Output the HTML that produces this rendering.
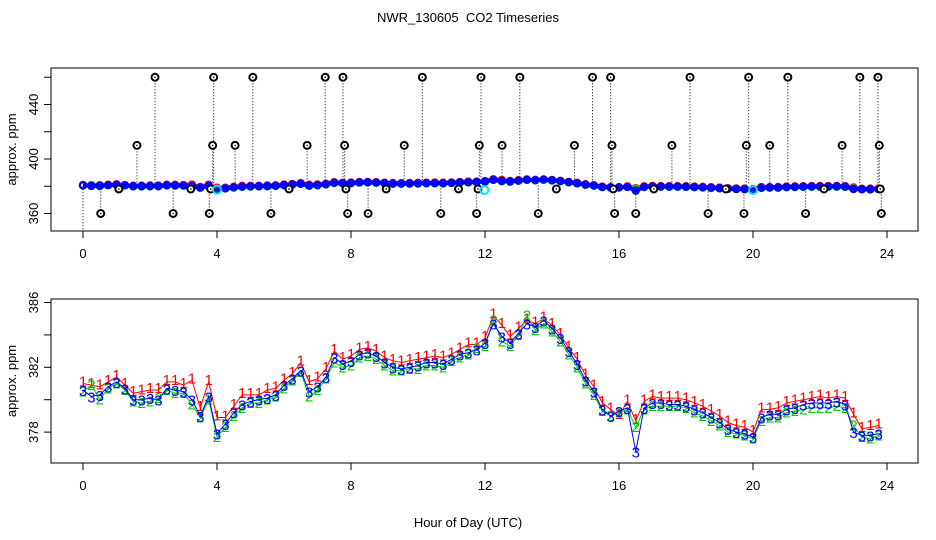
<!DOCTYPE html>
<html><head><meta charset="utf-8"><style>
html,body{margin:0;padding:0;background:#fff;}
svg{display:block;font-family:"Liberation Sans",sans-serif;}
</style></head><body>
<svg id="chart" width="936" height="540" viewBox="0 0 936 540" xmlns="http://www.w3.org/2000/svg">
<rect width="936" height="540" fill="#fff"/>
<text x="468" y="22" font-size="13" text-anchor="middle" xml:space="preserve">NWR_130605  CO2 Timeseries</text>
<text x="468" y="527" font-size="13" text-anchor="middle">Hour of Day (UTC)</text>
<g id="topPanel"></g>
<g id="botPanel"></g>
</svg>
<script>
const hourStep = 0.25;
const s1 = [381.0,380.9,380.8,381.1, 381.4,380.9,380.4,380.5, 380.6,380.6,381.1,381.1, 380.9,381.2,379.5,381.1, 378.9,378.9,379.6,380.3, 380.3,380.3,380.6,380.7, 381.2,381.6,382.3,381.1, 381.3,381.9,383.0,382.5, 382.7,383.1,383.2,383.0, 382.6,382.4,382.3,382.4, 382.5,382.6,382.7,382.6, 382.8,383.1,383.4,383.4, 383.8,385.2,384.6,383.9, 384.4,384.9,384.7,385.0, 384.6,384.0,383.2,382.5, 381.5,380.8,379.8,379.4, 379.0,379.9,378.7,379.9, 380.2,380.1,380.1,380.1, 380.0,379.8,379.6,379.3, 379.0,378.6,378.4,378.3, 378.0,379.4,379.4,379.5, 379.8,379.9,380.0,380.1, 380.2,380.1,380.2,380.1, 379.1,378.2,378.3,378.4];
const s2 = [380.5,380.9,380.0,380.7, 381.0,380.6,379.9,379.8, 379.9,380.1,380.6,380.4, 380.4,379.7,378.9,380.0, 377.7,378.3,379.0,379.5, 379.8,379.8,380.0,380.2, 380.7,381.2,381.7,380.2, 380.6,381.3,382.3,382.0, 382.1,382.6,382.7,382.5, 382.1,381.8,381.8,381.9, 381.9,382.1,382.1,382.0, 382.4,382.6,382.8,383.2, 383.3,384.9,383.6,383.3, 384.0,385.2,384.3,384.7, 384.2,383.6,382.8,382.0, 381.0,380.3,379.3,379.0, 379.2,379.4,378.3,379.4, 379.6,379.6,379.6,379.6, 379.5,379.2,379.0,378.7, 378.4,378.0,377.9,377.8, 377.6,378.7,378.9,378.9, 379.2,379.3,379.4,379.5, 379.5,379.5,379.6,379.5, 378.4,377.7,377.6,377.8];
const s3 = [380.6,380.2,380.3,380.8, 381.1,380.7,380.0,380.0, 380.1,380.0,380.7,380.6, 380.5,380.0,379.0,380.2, 377.9,378.5,379.2,379.7, 379.9,380.0,380.1,380.3, 380.9,381.3,381.8,380.5, 380.8,381.4,382.6,382.2, 382.4,382.8,382.9,382.7, 382.3,382.0,381.9,382.0, 382.1,382.3,382.3,382.2, 382.5,382.8,382.9,383.1, 383.5,384.7,383.9,383.5, 384.1,384.7,384.5,384.9, 384.4,383.8,383.0,382.2, 381.2,380.5,379.4,379.0, 379.3,379.5,376.8,379.5, 379.8,379.8,379.7,379.7, 379.6,379.4,379.2,378.9, 378.6,378.2,378.0,377.9, 377.7,378.9,379.1,379.1, 379.4,379.5,379.7,379.8, 379.8,379.8,379.9,379.7, 378.0,377.8,377.8,377.9];
const outHours = [0.53,1.07,1.61,2.15,2.69,3.22,3.77,3.81,3.87,3.90,4.54,5.07,5.61,6.15,6.69,7.23,7.76,7.81,7.85,7.90,8.51,9.05,9.59,10.13,10.68,11.21,11.75,11.79,11.83,11.88,12.51,13.04,13.59,14.13,14.67,15.21,15.75,15.79,15.83,15.87,16.5,17.04,17.58,18.12,18.66,19.19,19.73,19.80,19.87,20.5,21.04,21.57,22.12,22.66,23.19,23.73,23.77,23.80,23.83];
const outValues = [360,378,410,460,360,378,360,378,410,460,410,460,360,378,410,460,460,410,378,360,360,378,410,460,360,378,360,378,410,460,410,460,360,378,410,460,460,410,378,360,360,378,410,460,360,378,360,410,460,410,460,360,378,410,460,460,410,378,360];
const flagHours = [4.0,11.98,20.0];
const flagValues = [377.5,377.2,377.2];
const xTicks = [0,4,8,12,16,20,24];
const topYTicks = [360,380,400,420,440,460];
const topYLabels = [360,400,440];
const botYTicks = [378,380,382,384,386];
const botYLabels = [378,382,386];

const NS = "http://www.w3.org/2000/svg";
function mk(parent, tag, attrs) {
  const e = document.createElementNS(NS, tag);
  for (const k in attrs) e.setAttribute(k, attrs[k]);
  parent.appendChild(e);
  return e;
}
const xs = h => 83 + h * 33.5;
const yTop = v => 159 - (v - 400) * 54.5 / 40;
const yBot = v => 367.3 - (v - 382) * 16.2;
const hourOf = i => i * hourStep;

function frame(g, y0, y1, yScale, ticks, labels, name) {
  const r = mk(g, 'rect', {x: 51, y: y0, width: 867, height: y1 - y0, fill: 'none', stroke: '#000', 'stroke-width': 1});
  
  
  const ax = mk(g, 'g', {});
  
  
  mk(ax, 'line', {x1: xs(0), x2: xs(24), y1: y1, y2: y1, stroke: '#000'});
  xTicks.forEach(t => {
    mk(ax, 'line', {x1: xs(t), x2: xs(t), y1: y1, y2: y1 + 7, stroke: '#000'});
    const tx = mk(ax, 'text', {x: xs(t), y: y1 + 27, 'font-size': 13, 'text-anchor': 'middle'});
    tx.textContent = t;
    
    
  });
  const ay = mk(g, 'g', {});
  
  
  mk(ay, 'line', {x1: 51, x2: 51, y1: yScale(ticks[0]), y2: yScale(ticks[ticks.length - 1]), stroke: '#000'});
  ticks.forEach(t => mk(ay, 'line', {x1: 44, x2: 51, y1: yScale(t), y2: yScale(t), stroke: '#000'}));
  labels.forEach(t => {
    const tx = mk(ay, 'text', {x: 0, y: 0, 'font-size': 13, 'text-anchor': 'middle', transform: `translate(38,${yScale(t)}) rotate(-90)`});
    tx.textContent = t;
    
    
  });
  const yt = mk(g, 'text', {x: 0, y: 0, 'font-size': 13, 'text-anchor': 'middle', transform: `translate(16,${(y0 + y1) / 2}) rotate(-90)`});
  yt.textContent = 'approx. ppm';
  
  
}

// TOP PANEL
const topG = document.getElementById('topPanel');
frame(topG, 68, 231, yTop, topYTicks, topYLabels, 'top');
const stems = mk(topG, 'g', {});


mk(stems, 'line', {x1: xs(0), x2: xs(0), y1: yTop(380), y2: 231, stroke: '#000', 'stroke-dasharray': '1,2'});
outHours.forEach((h, i) => {
  const v = outValues[i];
  mk(stems, 'line', {x1: xs(h), x2: xs(h), y1: yTop(v), y2: yTop(381), stroke: '#000', 'stroke-dasharray': '1,2'});
});
[[s1, 'red', 'series-1'], [s2, '#00dd00', 'series-2'], [s3, '#0000ff', 'series-3']].forEach(([s, c, n]) => {
  const g = mk(topG, 'g', {});
  
  
  mk(g, 'polyline', {points: s.map((v, i) => xs(hourOf(i)) + ',' + yTop(v)).join(' '), fill: 'none', stroke: c, 'stroke-width': 4, 'stroke-linejoin': 'round'});
  s.forEach((v, i) => {
    const p = mk(g, 'circle', {cx: xs(hourOf(i)), cy: yTop(v), r: 3.2, fill: 'none', stroke: c, 'stroke-width': 2});
    
    
  });
});
const og = mk(topG, 'g', {});


outHours.forEach((h, i) => {
  const c = mk(og, 'circle', {cx: xs(h), cy: yTop(outValues[i]), r: 3.5, fill: '#fff', stroke: '#000', 'stroke-width': 2});
  
  
  mk(og, 'circle', {cx: xs(h), cy: yTop(outValues[i]), r: 0.8, fill: '#000'});
});
flagHours.forEach((h, i) => {
  const c = mk(og, 'circle', {cx: xs(h), cy: yTop(flagValues[i]), r: 4, fill: 'none', stroke: '#00e5ee', 'stroke-width': 2});
  
  
});

// BOTTOM PANEL
const botG = document.getElementById('botPanel');
frame(botG, 299, 463, yBot, botYTicks, botYLabels, 'bottom');
[[s1, 'red', '1', 'series-1', -2], [s2, '#00cc00', '2', 'series-2', 0], [s3, '#0000ff', '3', 'series-3', 1]].forEach(([s, c, ch, n, dy]) => {
  const g = mk(botG, 'g', {});
  
  
  mk(g, 'polyline', {points: s.map((v, i) => xs(hourOf(i)) + ',' + yBot(v)).join(' '), fill: 'none', stroke: c, 'stroke-width': 1});
  s.forEach((v, i) => {
    const t = mk(g, 'text', {x: xs(hourOf(i)), y: yBot(v) + 5 + dy, 'font-size': 15, 'text-anchor': 'middle', fill: c});
    t.textContent = ch;
    
    
  });
});
</script>
</body></html>
